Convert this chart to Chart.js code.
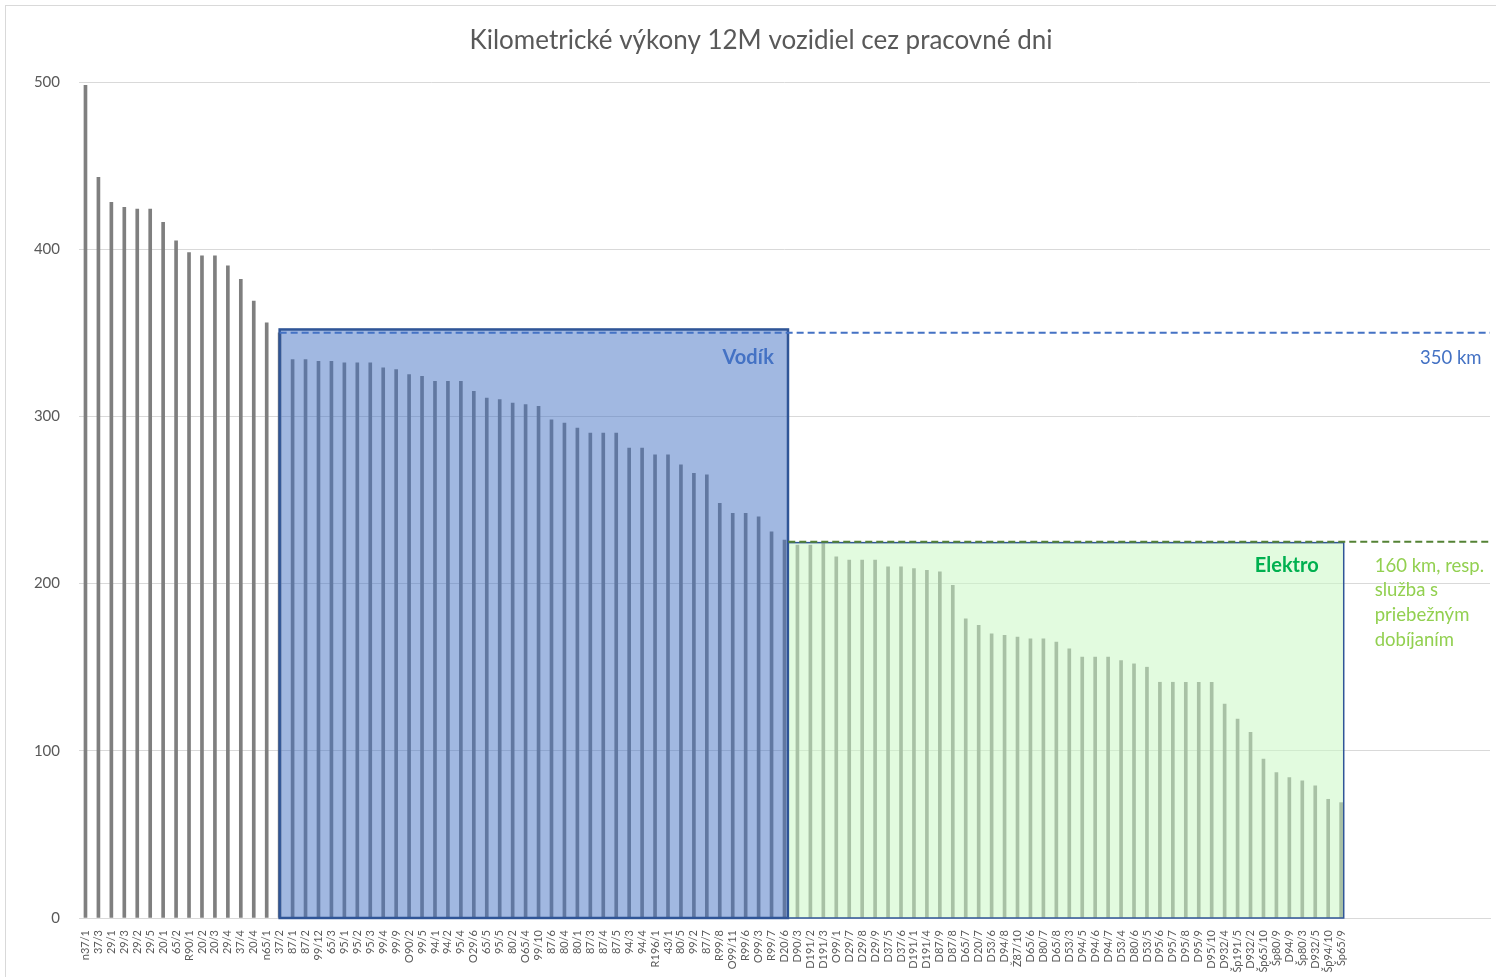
<!DOCTYPE html>
<html>
<head>
<meta charset="utf-8">
<script src="https://cdn.jsdelivr.net/npm/chart.js@4.4.1/dist/chart.umd.min.js"></script>
<style>
  html, body { margin: 0; padding: 0; background: #fff; }
  canvas { display: block; }
</style>
</head>
<body>
<canvas id="chart" width="1496" height="977"></canvas>
<script>
// vozidla nad 350 km (posledné je schované pod okrajom rámčeka)
const dieselLabels = ['n37/1', '37/3', '29/1', '29/3', '29/2', '29/5', '20/1', '65/2', 'R90/1', '20/2',
  '20/3', '29/4', '37/4', '20/4', 'n65/1', '37/2'];
const dieselValues = [498, 443, 428, 425, 424, 424, 416, 405, 398, 396,
  396, 390, 382, 369, 356, 350];

// kandidáti na vodík
const vodikLabels = ['87/1', '87/2', '99/12', '65/3', '95/1', '95/2', '95/3', '99/4', '99/9', 'O90/2',
  '99/5', '94/1', '94/2', '95/4', 'O29/6', '65/5', '95/5', '80/2', 'O65/4', '99/10',
  '87/6', '80/4', '80/1', '87/3', '87/4', '87/5', '94/3', '94/4', 'R196/1', '43/1',
  '80/5', '99/2', '87/7', 'R99/8', 'O99/11', 'R99/6', 'O99/3', 'R99/7', 'D20/6'];
const vodikValues = [334, 334, 333, 333, 332, 332, 332, 329, 328, 325,
  324, 321, 321, 321, 315, 311, 310, 308, 307, 306,
  298, 296, 293, 290, 290, 290, 281, 281, 277, 277,
  271, 266, 265, 248, 242, 242, 240, 231, 226];

// kandidáti na elektro
const elektroLabels = ['D90/3', 'D191/2', 'D191/3', 'O99/1', 'D29/7', 'D29/8', 'D29/9', 'D37/5', 'D37/6', 'D191/1',
  'D191/4', 'D87/9', 'D87/8', 'D65/7', 'D20/7', 'D53/6', 'D94/8', 'Ž87/10', 'D65/6', 'D80/7',
  'D65/8', 'D53/3', 'D94/5', 'D94/6', 'D94/7', 'D53/4', 'D80/6', 'D53/5', 'D95/6', 'D95/7',
  'D95/8', 'D95/9', 'D95/10', 'D932/4', 'Šp191/5', 'D932/2', 'Šp65/10', 'Šp80/9', 'D94/9', 'Šp80/3',
  'D932/5', 'Šp94/10', 'Šp65/9'];
const elektroValues = [223, 223, 224, 216, 214, 214, 214, 210, 210, 209,
  208, 207, 199, 179, 175, 170, 169, 168, 167, 167,
  165, 161, 156, 156, 156, 154, 152, 150, 141, 141,
  141, 141, 141, 128, 119, 111, 95, 87, 84, 82,
  79, 71, 69];

// prázdne stĺpce na konci osi (graf v Exceli siaha ďalej ako dáta)
const emptySlots = ['', '', '', '', '', '', '', '', '', '', ''];

const yTicks = [0, 100, 200, 300, 400, 500];

const vodikLimit = 350;
const elektroLimit = 225;

const title = 'Kilometrické výkony 12M vozidiel cez pracovné dni';

const labels = dieselLabels.concat(vodikLabels, elektroLabels, emptySlots);
const values = dieselValues.concat(vodikValues, elektroValues);

const font = 'Lato, "Open Sans", sans-serif';

// rámčeky, prerušované čiary a popisky
const overlay = {
  id: 'overlay',
  beforeDraw(chart) {
    const ctx = chart.ctx;
    ctx.save();
    ctx.fillStyle = '#fff';
    ctx.fillRect(0, 0, chart.width, chart.height);
    ctx.strokeStyle = '#d9d9d9';
    ctx.lineWidth = 1;
    ctx.strokeRect(5.5, 5.5, chart.width + 10, chart.height + 10);
    // nadpis (v Exceli je trochu vpravo od stredu)
    ctx.fillStyle = '#595959';
    ctx.font = '26px ' + font;
    ctx.textAlign = 'center';
    ctx.textBaseline = 'middle';
    ctx.fillText(title, 761, 41);
    ctx.restore();
  },
  afterDatasetsDraw(chart) {
    const { ctx, chartArea } = chart;
    const x = chart.scales.x, y = chart.scales.y;
    const step = x.getPixelForValue(1) - x.getPixelForValue(0);
    const xAt = (label, shift) => x.getPixelForValue(labels.indexOf(label)) + shift * step;

    const bL = xAt('37/2', 0), bR = xAt('D20/6', 0.27), bT = y.getPixelForValue(352);
    const gL = xAt('D20/6', 0.29), gR = xAt('Šp65/9', 0.2), gT = y.getPixelForValue(224.5);
    const y0 = y.getPixelForValue(0);

    ctx.save();
    // vodík
    ctx.fillStyle = 'rgba(68, 114, 196, 0.5)';
    ctx.fillRect(bL, bT, bR - bL, y0 - bT);
    ctx.strokeStyle = '#2f5597';
    ctx.lineWidth = 2.5;
    ctx.strokeRect(bL, bT, bR - bL, y0 - bT);

    // elektro
    ctx.fillStyle = 'rgba(202, 248, 196, 0.55)';
    ctx.fillRect(gL, gT, gR - gL, y0 - gT);
    ctx.strokeStyle = '#2f5597';
    ctx.lineWidth = 1.5;
    ctx.strokeRect(gL, gT, gR - gL, y0 - gT);

    // limity
    ctx.setLineDash([7, 4]);
    ctx.lineWidth = 2;
    ctx.strokeStyle = '#4472c4';
    let ly = y.getPixelForValue(vodikLimit);
    ctx.beginPath(); ctx.moveTo(bL, ly); ctx.lineTo(chartArea.right, ly); ctx.stroke();
    ctx.strokeStyle = '#548235';
    ly = y.getPixelForValue(elektroLimit);
    ctx.beginPath(); ctx.moveTo(gL, ly); ctx.lineTo(chartArea.right, ly); ctx.stroke();
    ctx.setLineDash([]);

    // texty
    ctx.textBaseline = 'middle';
    ctx.textAlign = 'right';
    ctx.font = 'bold 20px ' + font;
    ctx.fillStyle = '#4472c4';
    ctx.fillText('Vodík', bR - 14, bT + 28);
    ctx.fillStyle = '#00b050';
    ctx.fillText('Elektro', gR - 25, gT + 23);

    ctx.textAlign = 'left';
    ctx.font = '18.5px ' + font;
    ctx.fillStyle = '#4472c4';
    ctx.fillText('350 km', chartArea.right - 70, y.getPixelForValue(vodikLimit) + 25);
    ctx.fillStyle = '#92d050';
    const note = ['160 km, resp.', 'služba s', 'priebežným', 'dobíjaním'];
    note.forEach((t, i) => ctx.fillText(t, gR + 31, gT + 23 + i * 24.7));
    ctx.restore();
  }
};

new Chart(document.getElementById('chart'), {
  type: 'bar',
  data: {
    labels: labels,
    datasets: [{
      data: values,
      backgroundColor: '#7f7f7f',
      barThickness: 3
    }]
  },
  options: {
    responsive: false,
    animation: false,
    layout: { padding: { top: 82, left: 0, right: 6, bottom: 0 } },
    plugins: {
      legend: { display: false },
      tooltip: { enabled: false },
      title: { display: false }
    },
    scales: {
      x: {
        grid: { display: false },
        border: { color: '#d9d9d9' },
        ticks: {
          autoSkip: false,
          maxRotation: 90,
          minRotation: 90,
          padding: 4,
          color: '#595959',
          font: { family: font, size: 11 }
        },
        afterFit(scale) {
          scale.height = 59;
          scale.paddingLeft = 0;
          scale.paddingRight = 0;
        }
      },
      y: {
        min: 0,
        max: 500,
        afterBuildTicks(scale) { scale.ticks = yTicks.map(v => ({ value: v })); },
        grid: { color: '#d9d9d9', drawTicks: false },
        border: { display: false },
        ticks: {
          padding: 19,
          color: '#595959',
          font: { family: font, size: 15 }
        },
        afterFit(scale) {
          scale.width = 79;
          scale.paddingTop = 0;
          scale.paddingBottom = 0;
        }
      }
    }
  },
  plugins: [overlay]
});
</script>
</body>
</html>
